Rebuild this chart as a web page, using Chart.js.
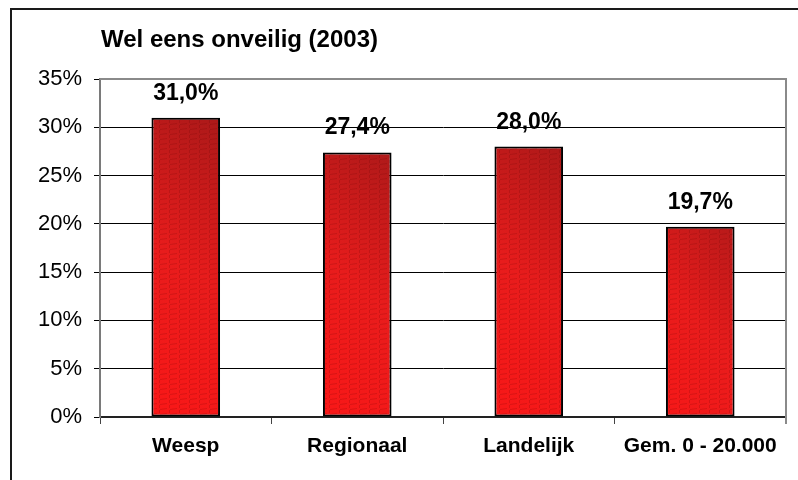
<!DOCTYPE html>
<html>
<head>
<meta charset="utf-8">
<script src="https://cdn.jsdelivr.net/npm/chart.js@4.4.1/dist/chart.umd.min.js"></script>
<style>
  html, body { margin: 0; padding: 0; background: #fff; }
  #wrap { width: 798px; height: 480px; position: relative; }
</style>
</head>
<body>
<div id="wrap"><canvas id="chart" width="798" height="480"></canvas></div>
<script>
// --- data ---
const categories = ['Weesp', 'Regionaal', 'Landelijk', 'Gem. 0 - 20.000'];
const values = [31.0, 27.4, 28.0, 19.7];
const yTicks = [0, 5, 10, 15, 20, 25, 30, 35];
const chartTitle = 'Wel eens onveilig (2003)';

const FONT = '"Liberation Sans", Arial, Helvetica, sans-serif';
const BAR_FRACTION = 0.4;

// small brick-ish texture laid over the bars
function makeTexture() {
  const c = document.createElement('canvas');
  c.width = 10; c.height = 5;
  const g = c.getContext('2d');
  g.strokeStyle = 'rgba(90, 0, 0, 0.18)';
  g.lineWidth = 1;
  g.beginPath();
  g.moveTo(0, 4.5); g.lineTo(7, 3.5);
  g.moveTo(9.5, 0); g.lineTo(9.5, 3);
  g.stroke();
  return c;
}
const texture = makeTexture();

function fmt(v) {
  return v.toFixed(1).replace('.', ',') + '%';
}

const decorPlugin = {
  id: 'decor',
  beforeDraw(chart) {
    const ctx = chart.ctx;
    ctx.save();
    // outer frame (only left and top edges are inside the picture)
    ctx.strokeStyle = '#1a1a1a';
    ctx.lineWidth = 2;
    ctx.beginPath();
    ctx.moveTo(11, 481);
    ctx.lineTo(11, 9);
    ctx.lineTo(800, 9);
    ctx.stroke();
    // title
    ctx.fillStyle = '#000';
    ctx.font = 'bold 24px ' + FONT;
    ctx.textAlign = 'left';
    ctx.textBaseline = 'alphabetic';
    ctx.fillText(chartTitle, 101, 47);
    ctx.restore();
  },
  afterDatasetsDraw(chart) {
    const ctx = chart.ctx;
    const meta = chart.getDatasetMeta(0);
    const pat = ctx.createPattern(texture, 'repeat');
    ctx.save();
    meta.data.forEach((bar, i) => {
      const p = bar.getProps(['x', 'y', 'base', 'width'], true);
      // texture inside the bar
      ctx.save();
      ctx.beginPath();
      ctx.rect(p.x - p.width / 2 + 1, p.y + 1, p.width - 2, p.base - p.y - 2);
      ctx.clip();
      ctx.fillStyle = pat;
      ctx.fillRect(p.x - p.width / 2, p.y, p.width, p.base - p.y);
      ctx.restore();
      // value label
      ctx.fillStyle = '#000';
      ctx.font = 'bold 23px ' + FONT;
      ctx.textAlign = 'center';
      ctx.textBaseline = 'alphabetic';
      ctx.fillText(fmt(values[i]), p.x, p.y - 18);
    });
    ctx.restore();
  },
  afterDraw(chart) {
    const a = chart.chartArea;
    const ctx = chart.ctx;
    ctx.save();
    ctx.strokeStyle = '#8a8a8a';
    ctx.lineWidth = 2;
    ctx.beginPath();
    ctx.moveTo(a.left, a.top);
    ctx.lineTo(a.right, a.top);
    ctx.lineTo(a.right, a.bottom + 7);
    ctx.stroke();
    ctx.restore();
  }
};

new Chart(document.getElementById('chart'), {
  type: 'bar',
  data: {
    labels: categories,
    datasets: [{
      data: values,
      backgroundColor: (c) => {
        const chart = c.chart;
        const xs = chart.scales.x, ys = chart.scales.y;
        if (!xs || !ys || !chart.chartArea) return '#e02020';
        const cx = xs.getPixelForValue(c.dataIndex);
        const half = xs.width / categories.length * BAR_FRACTION / 2;
        const g = chart.ctx.createLinearGradient(cx - half * 3, ys.getPixelForValue(0), cx + half * 3, ys.getPixelForValue(c.raw));
        g.addColorStop(0, '#ff1616');
        g.addColorStop(0.5, '#e81c1c');
        g.addColorStop(1, '#9a1818');
        return g;
      },
      borderColor: '#000',
      borderWidth: 2,
      borderSkipped: false,
      barPercentage: BAR_FRACTION,
      categoryPercentage: 1.0
    }]
  },
  options: {
    responsive: false,
    animation: false,
    devicePixelRatio: 1,
    layout: { padding: { top: 79, right: 12, bottom: 0, left: 0 } },
    plugins: {
      legend: { display: false },
      title: { display: false },
      tooltip: { enabled: false }
    },
    scales: {
      x: {
        afterFit(scale) { scale.height = 63; },
        grid: {
          offset: true,
          drawOnChartArea: false,
          drawTicks: true,
          tickLength: 7,
          color: '#444'
        },
        border: { color: '#222', width: 2 },
        ticks: {
          color: '#000',
          padding: 10,
          font: { family: FONT, size: 21, weight: 'bold' }
        }
      },
      y: {
        min: 0,
        max: 35,
        afterFit(scale) { scale.width = 100; },
        afterBuildTicks(scale) { scale.ticks = yTicks.map(v => ({ value: v })); },
        grid: {
          color: (c) => (c.tick && c.tick.value === 35) ? 'rgba(0,0,0,0)' : '#000',
          tickColor: '#000',
          lineWidth: 1,
          tickLength: 6
        },
        border: { color: '#7a7a7a', width: 2 },
        ticks: {
          color: '#000',
          padding: 12,
          callback: (v) => v + '%',
          font: { family: FONT, size: 22 }
        }
      }
    }
  },
  plugins: [decorPlugin]
});
</script>
</body>
</html>
